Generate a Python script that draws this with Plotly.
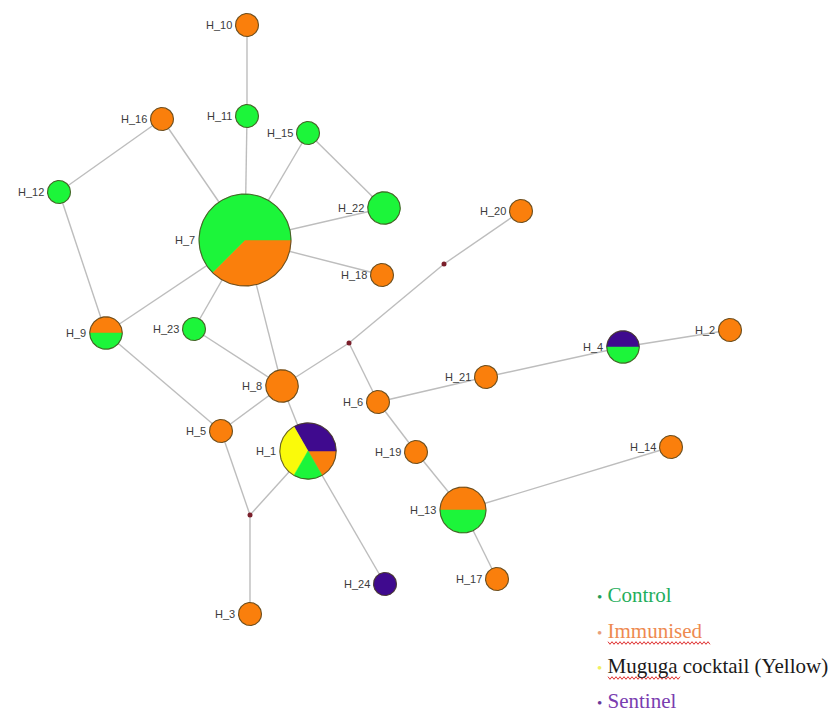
import numpy as np
import plotly.graph_objects as go

# ---------------- data ----------------
haplotypes = ["H_1", "H_2", "H_3", "H_4", "H_5", "H_6", "H_7", "H_8", "H_9", "H_10",
              "H_11", "H_12", "H_13", "H_14", "H_15", "H_16", "H_17", "H_18", "H_19",
              "H_20", "H_21", "H_22", "H_23", "H_24"]
# sample counts per group for each haplotype
control   = [1, 0, 0, 1, 0, 0, 10, 0, 1, 0, 1, 1, 2, 0, 1, 0, 0, 0, 0, 0, 0, 2, 1, 0]
immunised = [1, 1, 1, 0, 1, 1, 6, 2, 1, 1, 0, 0, 2, 1, 0, 1, 1, 1, 1, 1, 1, 0, 0, 0]
muguga    = [2, 0, 0, 0, 0, 0, 0, 0, 0, 0, 0, 0, 0, 0, 0, 0, 0, 0, 0, 0, 0, 0, 0, 0]
sentinel  = [2, 0, 0, 1, 0, 0, 0, 0, 0, 0, 0, 0, 0, 0, 0, 0, 0, 0, 0, 0, 0, 0, 0, 1]

median_vectors = ["mv1", "mv2", "mv3"]

edges = [("H_10", "H_11"), ("H_11", "H_7"), ("H_16", "H_7"), ("H_16", "H_12"),
         ("H_12", "H_9"), ("H_15", "H_7"), ("H_15", "H_22"), ("H_22", "H_7"),
         ("H_18", "H_7"), ("H_7", "H_9"), ("H_7", "H_23"), ("H_7", "H_8"),
         ("H_23", "H_8"), ("H_9", "H_5"), ("H_5", "H_8"), ("H_8", "mv2"),
         ("mv2", "mv1"), ("mv1", "H_20"), ("mv2", "H_6"), ("H_8", "H_1"),
         ("H_1", "H_24"), ("H_5", "mv3"), ("mv3", "H_1"), ("mv3", "H_3"),
         ("H_6", "H_21"), ("H_21", "H_4"), ("H_4", "H_2"), ("H_6", "H_19"),
         ("H_19", "H_13"), ("H_13", "H_14"), ("H_13", "H_17")]

groups = ["Control", "Immunised", "Muguga cocktail (Yellow)", "Sentinel"]

# ---------------- network layout (drawing coordinates) ----------------
node_pos = {
    "H_1": (308, 451), "H_2": (730, 330), "H_3": (250, 614), "H_4": (623, 347),
    "H_5": (221, 431), "H_6": (378, 402), "H_7": (245, 240), "H_8": (282, 386),
    "H_9": (106, 333), "H_10": (247, 25), "H_11": (247, 116), "H_12": (59, 192),
    "H_13": (463, 510), "H_14": (671, 447), "H_15": (308, 133), "H_16": (162, 119),
    "H_17": (497, 579), "H_18": (382, 275), "H_19": (416, 452), "H_20": (521, 211),
    "H_21": (486, 377), "H_22": (384, 208), "H_23": (194, 329), "H_24": (385, 584),
    "mv1": (444, 264), "mv2": (349, 343), "mv3": (250, 515),
}
# pie start angle (degrees, counter-clockwise from east)
start_angle = {"H_1": 300, "H_7": 225}

# ---------------- style ----------------
GREEN, ORANGE, YELLOW, PURPLE = "#1CF53A", "#FA7F0C", "#FAFA0A", "#3F0A8E"
slice_order = [("Immunised", ORANGE), ("Sentinel", PURPLE),
               ("Muguga", YELLOW), ("Control", GREEN)]
UNIT_R = 11.5
PAGE_OFFSET = 8  # default body margin of the html page

counts = {"Control": control, "Immunised": immunised,
          "Muguga": muguga, "Sentinel": sentinel}

fig = go.Figure()

# edges
ex, ey = [], []
for a, b in edges:
    (x0, y0), (x1, y1) = node_pos[a], node_pos[b]
    ex += [x0, x1, None]
    ey += [y0, y1, None]
fig.add_trace(go.Scatter(x=ex, y=ey, mode="lines",
                         line=dict(color="#BDBDBD", width=1.4),
                         hoverinfo="skip", showlegend=False))

# median vectors
fig.add_trace(go.Scatter(x=[node_pos[m][0] for m in median_vectors],
                         y=[node_pos[m][1] for m in median_vectors],
                         mode="markers",
                         marker=dict(size=5, color="#7A1F2B"),
                         hoverinfo="skip", showlegend=False))

# pie wedges
wedges = {g: ([], []) for g, _ in slice_order}
outline_x, outline_y = [], []
for i, h in enumerate(haplotypes):
    cx, cy = node_pos[h]
    vals = [counts[g][i] for g, _ in slice_order]
    total = sum(vals)
    r = UNIT_R * np.sqrt(total)
    ang = np.deg2rad(start_angle.get(h, 0))
    nonzero = [v for v in vals if v > 0]
    for (g, _), v in zip(slice_order, vals):
        if v == 0:
            continue
        span = 2 * np.pi * v / total
        t = np.linspace(ang, ang + span, max(8, int(180 * v / total)))
        px = list(cx + r * np.cos(t))
        py = list(cy - r * np.sin(t))
        if len(nonzero) > 1:
            px = [cx] + px + [cx]
            py = [cy] + py + [cy]
        wedges[g][0].extend(px + [None])
        wedges[g][1].extend(py + [None])
        ang += span
    t = np.linspace(0, 2 * np.pi, 181)
    outline_x += list(cx + r * np.cos(t)) + [None]
    outline_y += list(cy - r * np.sin(t)) + [None]

for g, col in slice_order:
    xs, ys = wedges[g]
    if xs:
        fig.add_trace(go.Scatter(x=xs, y=ys, mode="lines", fill="toself",
                                 fillcolor=col, line=dict(color=col, width=0.5),
                                 hoverinfo="skip", showlegend=False))
fig.add_trace(go.Scatter(x=outline_x, y=outline_y, mode="lines",
                         line=dict(color="rgba(70,60,25,0.8)", width=1.1),
                         hoverinfo="skip", showlegend=False))

# node labels
annotations = []
for i, h in enumerate(haplotypes):
    cx, cy = node_pos[h]
    total = control[i] + immunised[i] + muguga[i] + sentinel[i]
    r = UNIT_R * np.sqrt(total)
    annotations.append(dict(x=cx - r - 2, y=cy, text=h, showarrow=False,
                            xanchor="right", yanchor="middle",
                            font=dict(family="Liberation Sans", size=11, color="#3C3C3C")))

# legend text block
legend_colors = [("#1F9E5A", "#1FAE5C"), ("#E8A07A", "#EE8A50"),
                 ("#F0F060", "#1A1A1A"), ("#6A3A9A", "#7A3DB0")]
legend_y = [595, 631, 666, 701]
for g, (bc, tc), y in zip(groups, legend_colors, legend_y):
    annotations.append(dict(
        x=595, y=y, xanchor="left", yanchor="middle", showarrow=False,
        text=f"<span style='color:{bc};font-size:15px'>•</span> {g}",
        font=dict(family="Liberation Serif", size=21, color=tc)))

# spell-check wavy underlines
shapes = []
for x0, x1, y in [(608, 710, 643), (608, 680, 678)]:
    xs = np.arange(x0, x1 + 1, 2)
    pts = [f"{x},{y + (1.3 if k % 2 else -1.3)}" for k, x in enumerate(xs)]
    shapes.append(dict(type="path", path="M " + " L ".join(pts),
                       line=dict(color="#E03030", width=1)))

W, H = 838, 720
fig.update_layout(
    width=W - PAGE_OFFSET, height=H - PAGE_OFFSET,
    margin=dict(l=0, r=0, t=0, b=0),
    paper_bgcolor="white", plot_bgcolor="white",
    xaxis=dict(range=[PAGE_OFFSET, W], visible=False, fixedrange=True),
    yaxis=dict(range=[H, PAGE_OFFSET], visible=False, fixedrange=True),
    annotations=annotations, shapes=shapes,
    showlegend=False,
)

fig.write_html("out.html")
